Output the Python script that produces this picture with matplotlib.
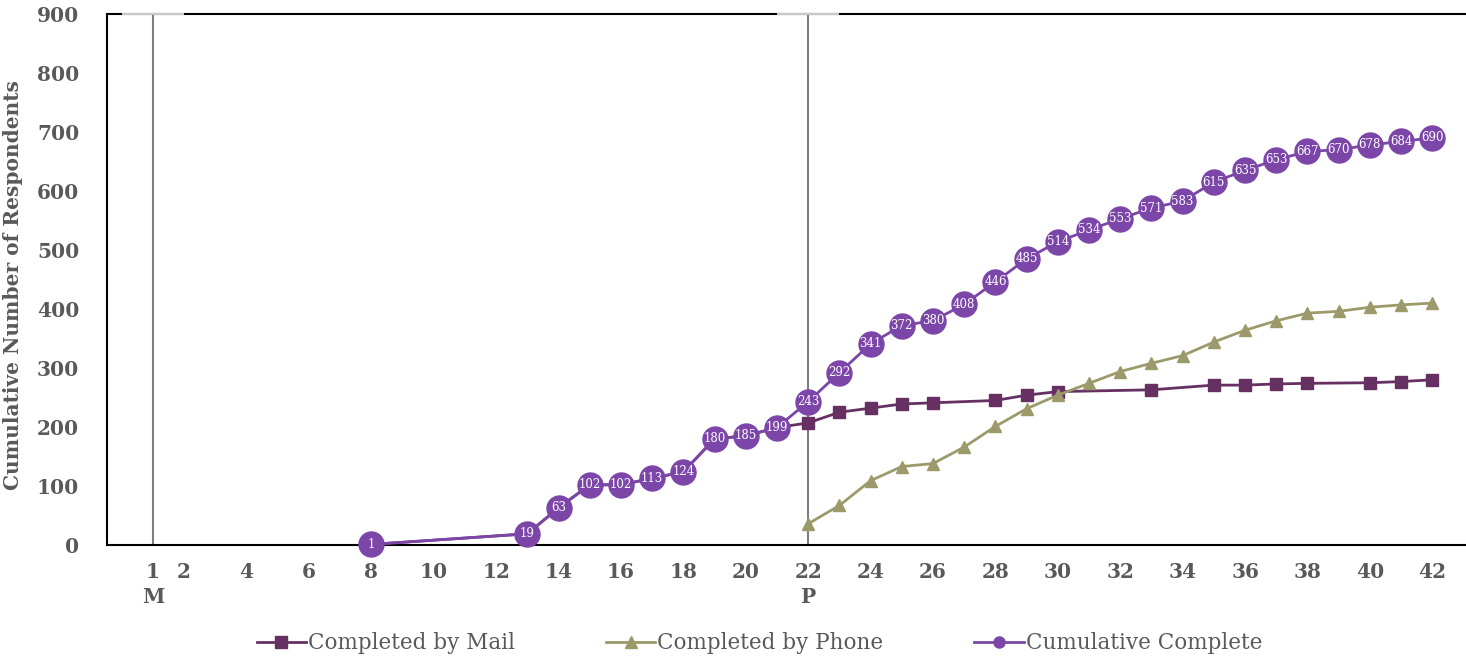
import matplotlib.pyplot as plt

# days (x positions) and values
cum_days = [8, 13, 14, 15, 16, 17, 18, 19, 20, 21, 22, 23, 24, 25, 26, 27, 28,
            29, 30, 31, 32, 33, 34, 35, 36, 37, 38, 39, 40, 41, 42]
cum_vals = [1, 19, 63, 102, 102, 113, 124, 180, 185, 199, 243, 292, 341, 372, 380,
            408, 446, 485, 514, 534, 553, 571, 583, 615, 635, 653, 667, 670, 678,
            684, 690]

mail_days = [8, 13, 14, 15, 16, 17, 18, 19, 20, 21, 22, 23, 24, 25, 26, 28, 29, 30,
             33, 35, 36, 37, 38, 40, 41, 42]
mail_vals = [1, 19, 63, 102, 102, 113, 124, 180, 185, 199, 207, 225, 232, 239, 241,
             245, 254, 260, 263, 271, 271, 273, 274, 275, 277, 280]

phone_days = [22, 23, 24, 25, 26, 27, 28, 29, 30, 31, 32, 33, 34, 35, 36, 37, 38,
              39, 40, 41, 42]
phone_vals = [36, 67, 109, 133, 138, 166, 201, 231, 254, 274, 294, 308, 321, 344,
              364, 380, 393, 396, 403, 407, 410]

xticks = [1, 2, 4, 6, 8, 10, 12, 14, 16, 18, 20, 22, 24, 26, 28, 30, 32, 34, 36,
          38, 40, 42]
xtick_labels = ['1\nM' if t == 1 else '22\nP' if t == 22 else str(t) for t in xticks]
event_days = [1, 22]

mail_c = '#673063'
phone_c = '#9c9a6a'
cum_c = '#7b46a8'
grey = '#595959'

plt.rcParams['font.family'] = ['DejaVu Serif']

fig = plt.figure(figsize=(14.66, 6.57), dpi=100)
ax = fig.add_axes([107/1466, 112/657, 1359/1466, 531/657])

for d in event_days:
    ax.axvline(d, color='#7f7f7f', lw=1.5, zorder=1)
    ax.hlines(900, d - 1, d + 1, color='#c8c8c8', lw=1.5, zorder=5, clip_on=False)

ax.plot(mail_days, mail_vals, color=mail_c, lw=2, marker='s', ms=8,
        label='Completed by Mail', zorder=3)
ax.plot(phone_days, phone_vals, color=phone_c, lw=2, marker='^', ms=9,
        label='Completed by Phone', zorder=3)
ax.plot(cum_days, cum_vals, color=cum_c, lw=2, marker='o', ms=18,
        label='Cumulative Complete', zorder=6, clip_on=False)

for d, v in zip(cum_days, cum_vals):
    ax.text(d, v, str(v), color='white', fontsize=8.5, ha='center', va='center',
            zorder=7)

ax.set_xlim(-0.47, 43.08)
ax.set_ylim(0, 900)
ax.set_yticks(range(0, 901, 100))
ax.set_xticks(xticks)
ax.set_xticklabels(xtick_labels, linespacing=1.35)
ax.tick_params(length=0, labelsize=14.5, colors=grey, pad=12)
ax.tick_params(axis='y', pad=20)
for lab in ax.get_xticklabels() + ax.get_yticklabels():
    lab.set_fontweight('bold')

ax.set_ylabel('Cumulative Number of Respondents', fontsize=14.5, fontweight='bold',
              color=grey)
ax.yaxis.set_label_coords(-0.062, 0.49)

for s in ['left', 'top', 'bottom']:
    ax.spines[s].set_color('black')
    ax.spines[s].set_linewidth(1.5)
ax.spines['right'].set_visible(False)

leg = fig.legend(loc='center', bbox_to_anchor=(0.518, 0.021), ncol=3,
                 frameon=False, fontsize=15.5, handlelength=2.3, handletextpad=0.1,
                 columnspacing=4.2)
for h in leg.legend_handles:
    h.set_markersize(8)
for t in leg.get_texts():
    t.set_color(grey)

fig.savefig('out.png', dpi=100)
